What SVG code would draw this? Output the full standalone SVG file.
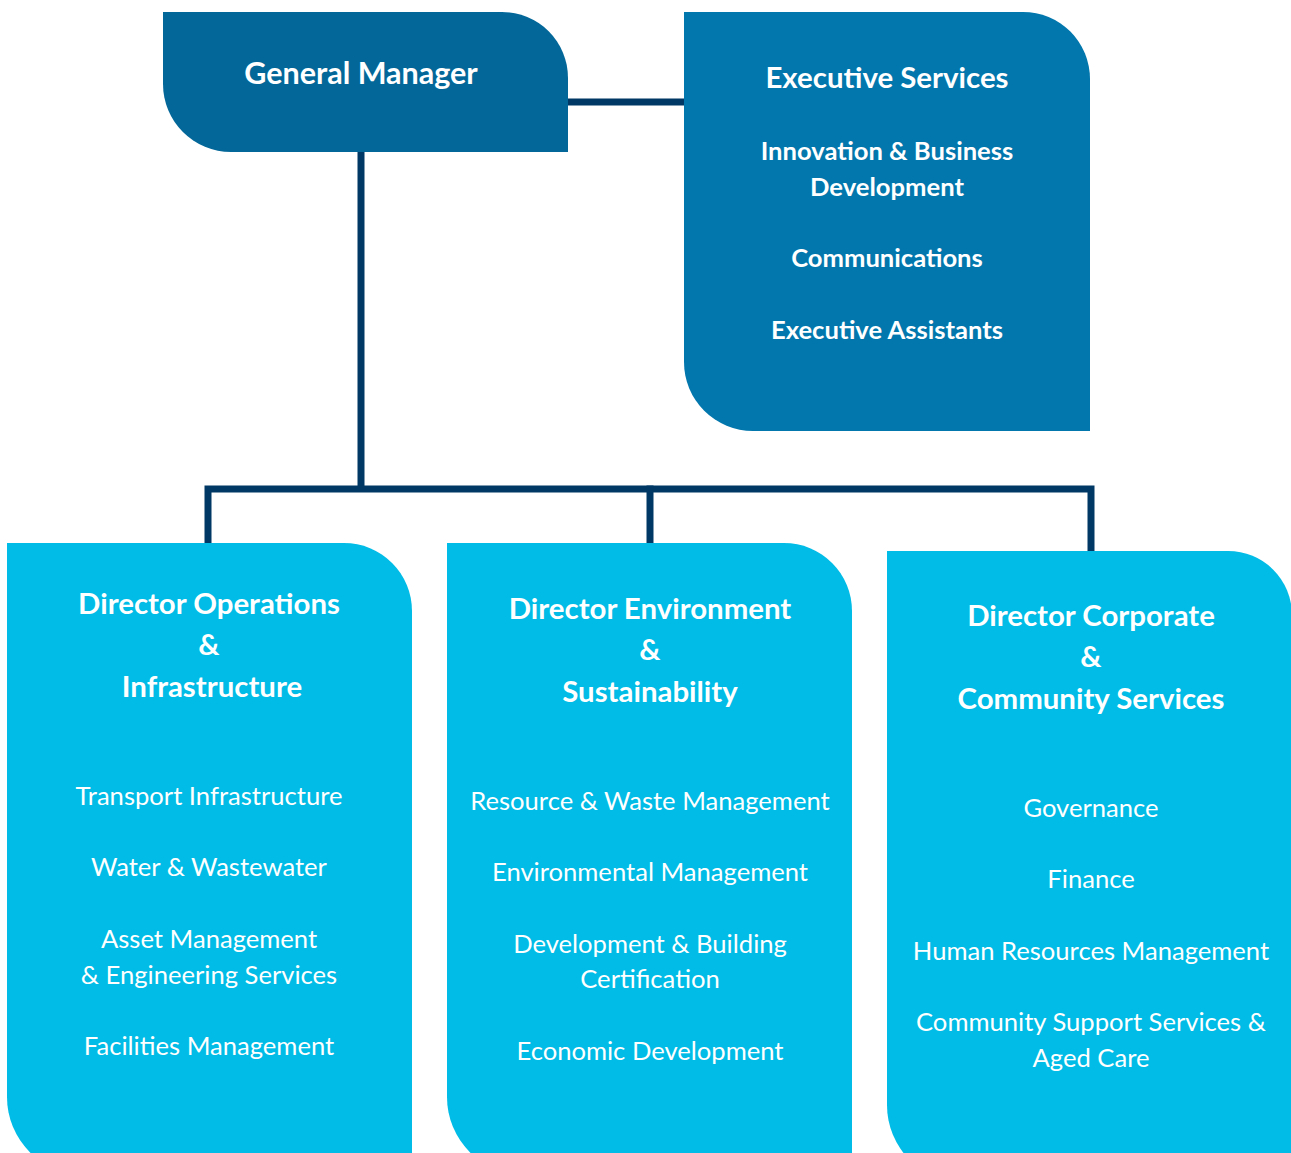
<svg xmlns="http://www.w3.org/2000/svg" width="1291" height="1153" viewBox="0 0 1291 1153">
<style>
.t{font-family:Lato,"Open Sans","Liberation Sans",sans-serif;fill:#fff;text-anchor:middle}
.h{font-weight:bold;font-size:29.4px}
.s{font-weight:bold;font-size:25.6px}
.i{font-size:25.6px}
.ln{stroke:#003865;stroke-width:7;fill:none;stroke-linecap:square}
</style>
<rect width="1291" height="1153" fill="#fff"/>
<g id="connectors">
<line class="ln" x1="361" y1="152" x2="361" y2="488"/>
<line class="ln" x1="568" y1="102" x2="684" y2="102"/>
<polyline class="ln" points="208,543 208,489 1091,489 1091,551"/>
<line class="ln" x1="650" y1="489" x2="650" y2="543"/>
</g>
<g id="general-manager">
<path d="M163,12 H502 A66,66 0 0 1 568,78 V152 H231 A68,68 0 0 1 163,84 Z" fill="#036899"/>
<text class="t h" x="361" y="84" style="font-size:30.5px">General Manager</text>
</g>
<g id="executive-services">
<path d="M684,12 H1023 A67,67 0 0 1 1090,79 V431 H753 A69,69 0 0 1 684,362 Z" fill="#0277AD"/>
<text class="t h" x="887" y="88">Executive Services</text>
<text class="t s" x="887" y="160">Innovation &amp; Business</text>
<text class="t s" x="887" y="196">Development</text>
<text class="t s" x="887" y="267">Communications</text>
<text class="t s" x="887" y="339">Executive Assistants</text>
</g>
<g id="director-operations">
<path d="M7,543 H344 A68,68 0 0 1 412,611 V1175 H85 A78,78 0 0 1 7,1097 Z" fill="#00BCE6"/>
<text class="t h" x="209" y="614">Director Operations</text>
<text class="t h" x="209" y="655">&amp;</text>
<text class="t h" x="212" y="697">Infrastructure</text>
<text class="t i" x="209" y="805">Transport Infrastructure</text>
<text class="t i" x="209" y="876">Water &amp; Wastewater</text>
<text class="t i" x="209" y="948">Asset Management</text>
<text class="t i" x="209" y="984">&amp; Engineering Services</text>
<text class="t i" x="209" y="1055">Facilities Management</text>
</g>
<g id="director-environment">
<path d="M447,543 H784 A68,68 0 0 1 852,611 V1175 H525 A78,78 0 0 1 447,1097 Z" fill="#00BCE6"/>
<text class="t h" x="650" y="619">Director Environment</text>
<text class="t h" x="650" y="660">&amp;</text>
<text class="t h" x="650" y="702">Sustainability</text>
<text class="t i" x="650" y="810">Resource &amp; Waste Management</text>
<text class="t i" x="650" y="881">Environmental Management</text>
<text class="t i" x="650" y="953">Development &amp; Building</text>
<text class="t i" x="650" y="988">Certification</text>
<text class="t i" x="650" y="1060">Economic Development</text>
</g>
<g id="director-corporate">
<path d="M887,551 H1228 A64,64 0 0 1 1292,615 V1183 H965 A78,78 0 0 1 887,1105 Z" fill="#00BCE6"/>
<text class="t h" x="1091" y="626">Director Corporate</text>
<text class="t h" x="1091" y="667">&amp;</text>
<text class="t h" x="1091" y="709">Community Services</text>
<text class="t i" x="1091" y="817">Governance</text>
<text class="t i" x="1091" y="888">Finance</text>
<text class="t i" x="1091" y="960">Human Resources Management</text>
<text class="t i" x="1091" y="1031">Community Support Services &amp;</text>
<text class="t i" x="1091" y="1067">Aged Care</text>
</g>
</svg>
